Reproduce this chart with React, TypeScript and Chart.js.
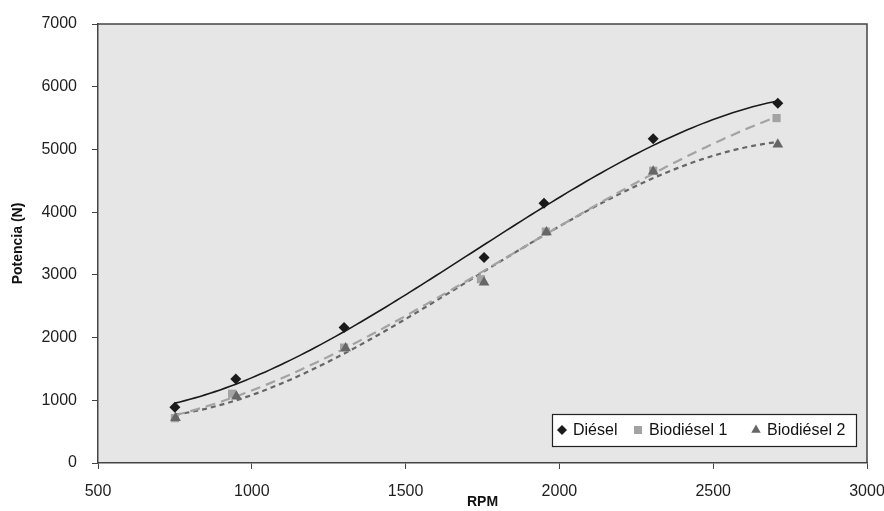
import React, { useEffect, useRef } from 'react';
import { Chart, registerables } from 'chart.js';

Chart.register(...registerables);

// ---- Data ----
const dieselRpm = [750, 948, 1300, 1755, 1950, 2305, 2710];
const dieselPower = [890, 1340, 2160, 3275, 4140, 5170, 5735];

const bio1Rpm = [750, 936, 1300, 1745, 1956, 2305, 2706];
const bio1Power = [715, 1105, 1840, 2930, 3690, 4660, 5500];

const bio2Rpm = [752, 950, 1305, 1755, 1958, 2305, 2710];
const bio2Power = [720, 1060, 1830, 2880, 3680, 4650, 5080];

const seriesNames = ['Diésel', 'Biodiésel 1', 'Biodiésel 2'];
const xMin = 500;
const xMax = 3000;
const xStep = 500;
const yMin = 0;
const yMax = 7000;
const yStep = 1000;
const xTitle = 'RPM';
const yTitle = 'Potencia (N)';

// ---- Styles ----
const FONT = '"Liberation Sans", Arial, Helvetica, sans-serif';
const cDiesel = '#1a1a1a';
const cBio1 = '#a3a3a3';
const cBio2 = '#666666';

// Cubic least-squares trend line (like a spreadsheet polynomial trendline)
function polyFit(xs: number[], ys: number[], deg: number) {
  const cx = 1700, sx = 1000;
  const n = deg + 1;
  const A: number[][] = Array.from({ length: n }, () => new Array(n + 1).fill(0));
  for (let k = 0; k < xs.length; k++) {
    const t = (xs[k] - cx) / sx;
    for (let i = 0; i < n; i++) {
      for (let j = 0; j < n; j++) A[i][j] += Math.pow(t, i + j);
      A[i][n] += ys[k] * Math.pow(t, i);
    }
  }
  for (let i = 0; i < n; i++) {
    let p = i;
    for (let r = i + 1; r < n; r++) if (Math.abs(A[r][i]) > Math.abs(A[p][i])) p = r;
    [A[i], A[p]] = [A[p], A[i]];
    for (let r = 0; r < n; r++) {
      if (r === i) continue;
      const f = A[r][i] / A[i][i];
      for (let c = i; c <= n; c++) A[r][c] -= f * A[i][c];
    }
  }
  const coef = A.map((row, i) => row[n] / row[i]);
  return (x: number) => {
    const t = (x - cx) / sx;
    let v = 0;
    for (let i = n - 1; i >= 0; i--) v = v * t + coef[i];
    return v;
  };
}

function trend(xs: number[], ys: number[]) {
  const f = polyFit(xs, ys, 3);
  const lo = Math.min(...xs), hi = Math.max(...xs);
  const pts: { x: number; y: number }[] = [];
  const N = 120;
  for (let i = 0; i <= N; i++) {
    const x = lo + ((hi - lo) * i) / N;
    pts.push({ x, y: f(x) });
  }
  return pts;
}

const toPts = (xs: number[], ys: number[]) => xs.map((x, i) => ({ x, y: ys[i] }));

function drawMarker(ctx: CanvasRenderingContext2D, kind: string, x: number, y: number, color: string) {
  ctx.save();
  ctx.fillStyle = color;
  ctx.beginPath();
  if (kind === 'diamond') {
    const r = 5;
    ctx.moveTo(x - r, y);
    ctx.lineTo(x, y - r);
    ctx.lineTo(x + r, y);
    ctx.lineTo(x, y + r);
  } else if (kind === 'square') {
    ctx.rect(x - 4, y - 4, 8, 8);
  } else {
    const r = 5.5;
    ctx.moveTo(x, y - r);
    ctx.lineTo(x + r * 0.866, y + r * 0.5);
    ctx.lineTo(x - r * 0.866, y + r * 0.5);
  }
  ctx.closePath();
  ctx.fill();
  ctx.restore();
}

const framePlugin = {
  id: 'frameAndLegend',
  beforeDraw(chart: any) {
    const { ctx, chartArea: a } = chart;
    ctx.save();
    ctx.fillStyle = '#e6e6e6';
    ctx.fillRect(a.left, a.top, a.right - a.left, a.bottom - a.top);
    ctx.restore();
  },
  afterDraw(chart: any) {
    const { ctx, chartArea: a } = chart;
    ctx.save();
    ctx.strokeStyle = '#444444';
    ctx.lineWidth = 1.5;
    ctx.beginPath();
    ctx.moveTo(a.left, a.top);
    ctx.lineTo(a.right, a.top);
    ctx.lineTo(a.right, a.bottom);
    ctx.stroke();

    // legend box
    const w = 304, h = 32;
    const L = a.right - 11 - w;
    const T = a.bottom - 17 - h;
    ctx.fillStyle = '#ffffff';
    ctx.fillRect(L, T, w, h);
    ctx.strokeStyle = '#222222';
    ctx.lineWidth = 1.2;
    ctx.strokeRect(L + 0.5, T + 0.5, w, h);
    const cy = T + h / 2;
    const kinds = ['diamond', 'square', 'triangle'];
    const colors = [cDiesel, cBio1, cBio2];
    const markerX = [L + 10, L + 86, L + 204];
    ctx.font = `16px ${FONT}`;
    ctx.textBaseline = 'middle';
    ctx.textAlign = 'left';
    for (let i = 0; i < 3; i++) {
      drawMarker(ctx, kinds[i], markerX[i], cy, colors[i]);
      ctx.fillStyle = '#111111';
      ctx.fillText(seriesNames[i], markerX[i] + 11, cy + 1);
    }
    ctx.restore();
  },
};

export default function App() {
  const ref = useRef<HTMLCanvasElement | null>(null);

  useEffect(() => {
    if (!ref.current) return;
    const chart = new Chart(ref.current, {
      type: 'scatter',
      data: {
        datasets: [
          {
            label: seriesNames[0],
            data: toPts(dieselRpm, dieselPower),
            pointStyle: 'rectRot',
            pointRadius: 5.5,
            backgroundColor: cDiesel,
            borderColor: cDiesel,
            borderWidth: 0,
            order: 0,
          },
          {
            label: seriesNames[2],
            data: toPts(bio2Rpm, bio2Power),
            pointStyle: 'triangle',
            pointRadius: 6.2,
            backgroundColor: cBio2,
            borderColor: cBio2,
            borderWidth: 0,
            order: 1,
          },
          {
            label: seriesNames[1],
            data: toPts(bio1Rpm, bio1Power),
            pointStyle: 'rect',
            pointRadius: 5.8,
            backgroundColor: cBio1,
            borderColor: cBio1,
            borderWidth: 0,
            order: 2,
          },
          {
            label: seriesNames[0] + ' trend',
            data: trend(dieselRpm, dieselPower),
            showLine: true,
            pointRadius: 0,
            borderColor: cDiesel,
            borderWidth: 1.6,
            order: 3,
          },
          {
            label: seriesNames[1] + ' trend',
            data: trend(bio1Rpm, bio1Power),
            showLine: true,
            pointRadius: 0,
            borderColor: cBio1,
            borderWidth: 2.2,
            borderDash: [10, 6],
            order: 4,
          },
          {
            label: seriesNames[2] + ' trend',
            data: trend(bio2Rpm, bio2Power),
            showLine: true,
            pointRadius: 0,
            borderColor: cBio2,
            borderWidth: 2.2,
            borderDash: [5, 4],
            order: 5,
          },
        ],
      },
      options: {
        animation: false,
        responsive: false,
        devicePixelRatio: 1,
        layout: { padding: { left: 0, top: 24, right: 17, bottom: 0 } },
        plugins: {
          legend: { display: false },
          tooltip: { enabled: false },
        },
        scales: {
          x: {
            type: 'linear',
            min: xMin,
            max: xMax,
            afterFit: (s: any) => {
              s.height = 48;
              s.paddingLeft = 0;
              s.paddingRight = 0;
            },
            ticks: {
              stepSize: xStep,
              padding: 13,
              color: '#1e1e1e',
              font: { family: FONT, size: 16 },
              callback: (v: any) => String(v),
            },
            grid: { drawOnChartArea: false, drawTicks: true, tickLength: 6, color: '#444444' },
            border: { display: true, color: '#444444', width: 1.5 },
            title: {
              display: true,
              text: xTitle,
              color: '#111111',
              font: { family: FONT, size: 14, weight: 'bold' },
              padding: { top: 0, bottom: 0 },
            },
          },
          y: {
            type: 'linear',
            min: yMin,
            max: yMax,
            afterFit: (s: any) => {
              s.width = 98;
              s.paddingTop = 0;
              s.paddingBottom = 0;
            },
            ticks: {
              stepSize: yStep,
              padding: 15,
              color: '#1e1e1e',
              font: { family: FONT, size: 16 },
              callback: (v: any) => String(v),
            },
            grid: { drawOnChartArea: false, drawTicks: true, tickLength: 6, color: '#444444' },
            border: { display: true, color: '#444444', width: 1.5 },
            title: {
              display: true,
              text: yTitle,
              color: '#111111',
              font: { family: FONT, size: 14, weight: 'bold' },
              padding: { top: 10, bottom: 0 },
            },
          },
        },
      },
      plugins: [framePlugin],
    } as any);
    return () => chart.destroy();
  }, []);

  return (
    <div style={{ position: 'fixed', left: 0, top: 0, width: 884, height: 511, background: '#ffffff' }}>
      <canvas ref={ref} width={884} height={511} />
    </div>
  );
}
